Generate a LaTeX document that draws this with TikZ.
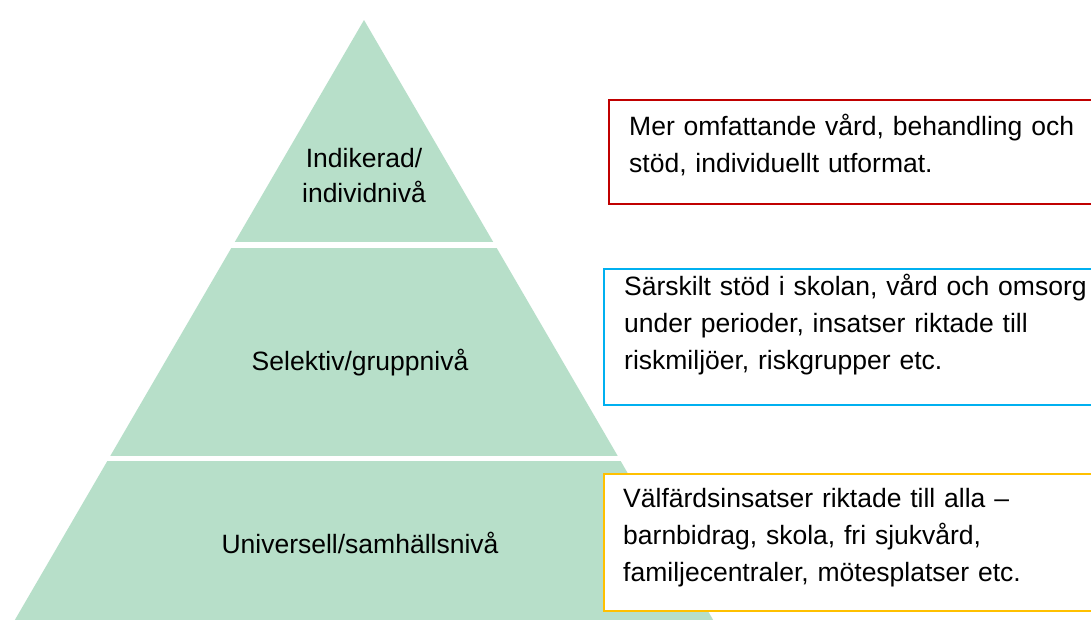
\documentclass[tikz,border=0pt]{standalone}
\usepackage{fontspec}
\setmainfont{Liberation Sans}
\usetikzlibrary{positioning}

\definecolor{tiergreen}{HTML}{B7DFC9}
\definecolor{redline}{HTML}{C00000}
\definecolor{blueline}{HTML}{00B0F0}
\definecolor{yellowline}{HTML}{FFC000}

\tikzset{
  tierlabel/.style={font=\fontsize{26.5}{34.7}\selectfont, inner sep=0pt},
  infobox/.style={draw, line width=1.8pt, fill=white, inner sep=0pt, anchor=north west},
  boxtext/.style={font=\fontsize{26.5}{37}\selectfont, text width=470pt, align=left, inner sep=0pt, anchor=base west}
}

\begin{document}
\begin{tikzpicture}[x=1pt,y=-1pt]

		% 1. Hoja: 1091 x 619 (un punto por pixel)
		\useasboundingbox (0,0) rectangle (1091,619);
		\fill[white] (0,0) rectangle (1091,619);
		\clip (0,0) rectangle (1091,619);

		% 2. Piramide (un triangulo cortado por franjas blancas)
		\def\apexX{364} \def\apexY{20}
		\fill[tiergreen] (\apexX,\apexY) -- (\apexX+355,630) -- (\apexX-355,630) -- cycle;
		\foreach \ytop/\ybot in {242/247.5, 455.5/460.5}
		\fill[white] (0,\ytop) rectangle (720,\ybot);

		% 3. Niveles
		\node[tierlabel, text width=200pt, align=center] (indik) at (364,175.5) {Indikerad/\\individnivå};
		\node[tierlabel, anchor=base] (selekt) at (360,370) {Selektiv/gruppnivå};
		\node[tierlabel, anchor=base] (univ) at (360,553) {Universell/samhällsnivå};

		% 4. Cajas de texto
		\node[infobox, draw=redline, minimum width=492pt, minimum height=104pt] (indbox) at (608,99) {};
		\node[infobox, draw=blueline, minimum width=497pt, minimum height=136pt] (selbox) at (603,268) {};
		\node[infobox, draw=yellowline, minimum width=497pt, minimum height=137pt] (unibox) at (603,473) {};

		\node[boxtext] (indtext) at (629,135) {Mer omfattande vård, behandling och\\stöd, individuellt utformat.};
		\node[boxtext] (seltext) at (624,295) {Särskilt stöd i skolan, vård och omsorg\\under perioder, insatser riktade till\\riskmiljöer, riskgrupper etc.};
		\node[boxtext] (unitext) at (623,507) {Välfärdsinsatser riktade till alla –\\barnbidrag, skola, fri sjukvård,\\familjecentraler, mötesplatser etc.};

	\end{tikzpicture}
\end{document}
